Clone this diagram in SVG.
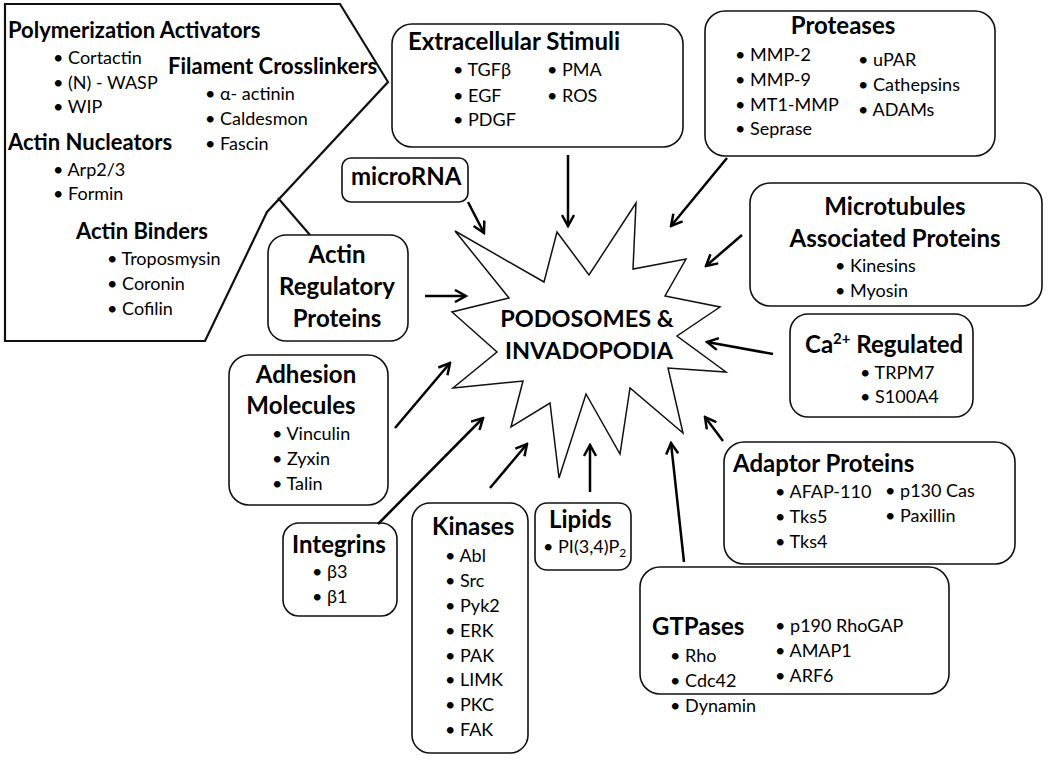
<svg xmlns="http://www.w3.org/2000/svg" width="1050" height="761" viewBox="0 0 1050 761">
<style>
.box{fill:#fff;stroke:#111;stroke-width:1.6}
.shape{fill:#fff;stroke:#111;stroke-width:2.2;stroke-linejoin:miter}
.star{fill:#fff;stroke:#111;stroke-width:1.5;stroke-linejoin:miter}
text{font-family:Lato,"Open Sans","Liberation Sans",sans-serif;fill:#000}
.t{font-weight:bold;font-size:24px}
.tc{font-weight:bold;font-size:24px;text-anchor:middle}
.pc{font-weight:bold;font-size:23.5px;text-anchor:middle}
.h{font-weight:bold;font-size:22px}
.i{font-size:18px}
.c{stroke:#000;stroke-width:2.5;fill:none;marker-end:url(#ah)}
.ln{stroke:#111;stroke-width:2.2;fill:none}
</style>
<defs>
<marker id="ah" viewBox="0 0 14 14" refX="12" refY="7" markerWidth="14" markerHeight="14" markerUnits="userSpaceOnUse" orient="auto">
<path d="M1,1 L12,7 L1,13" fill="none" stroke="#000" stroke-width="2.5"/>
</marker>
</defs>
<rect width="1050" height="761" fill="#fff"/>

<g id="actin-components">
<polygon class="shape" points="5,4 340,4 388,82 267,212 205,341 5,341"/>
<text class="h" x="8" y="38">Polymerization Activators</text>
<text class="i" x="53" y="64">• Cortactin</text>
<text class="i" x="53" y="89">• (N) - WASP</text>
<text class="i" x="53" y="113">• WIP</text>
<text class="h" x="8" y="150">Actin Nucleators</text>
<text class="i" x="53" y="176">• Arp2/3</text>
<text class="i" x="53" y="200">• Formin</text>
<text class="h" x="168" y="74">Filament Crosslinkers</text>
<text class="i" x="205" y="100">• α- actinin</text>
<text class="i" x="205" y="125">• Caldesmon</text>
<text class="i" x="205" y="150">• Fascin</text>
<text class="h" x="76" y="239">Actin Binders</text>
<text class="i" x="107" y="265">• Troposmysin</text>
<text class="i" x="107" y="290">• Coronin</text>
<text class="i" x="107" y="315">• Cofilin</text>
<line class="ln" x1="278" y1="198" x2="310" y2="235"/>
</g>

<g id="extracellular">
<rect class="box" x="392" y="24" width="291" height="123" rx="20"/>
<text class="t" x="408" y="50">Extracellular Stimuli</text>
<text class="i" x="453" y="76">• TGFβ</text>
<text class="i" x="453" y="102">• EGF</text>
<text class="i" x="453" y="126">• PDGF</text>
<text class="i" x="547" y="76">• PMA</text>
<text class="i" x="547" y="102">• ROS</text>
</g>

<g id="proteases">
<rect class="box" x="705" y="11" width="290" height="145" rx="20"/>
<text class="tc" x="843" y="34">Proteases</text>
<text class="i" x="735" y="61">• MMP-2</text>
<text class="i" x="735" y="86">• MMP-9</text>
<text class="i" x="735" y="111">• MT1-MMP</text>
<text class="i" x="735" y="135">• Seprase</text>
<text class="i" x="858" y="66">• uPAR</text>
<text class="i" x="858" y="91">• Cathepsins</text>
<text class="i" x="858" y="116">• ADAMs</text>
</g>

<g id="microrna">
<rect class="box" x="342" y="158" width="126" height="44" rx="9"/>
<text class="t" x="351" y="185">microRNA</text>
</g>

<g id="actin-regulatory">
<rect class="box" x="268" y="235" width="140" height="106" rx="18"/>
<text class="tc" x="337" y="263">Actin</text>
<text class="tc" x="337" y="295">Regulatory</text>
<text class="tc" x="337" y="327">Proteins</text>
</g>

<g id="microtubules">
<rect class="box" x="750" y="183" width="292" height="123" rx="20"/>
<text class="tc" x="895" y="215">Microtubules</text>
<text class="tc" x="895" y="247">Associated Proteins</text>
<text class="i" x="835" y="272">• Kinesins</text>
<text class="i" x="835" y="297">• Myosin</text>
</g>

<g id="calcium">
<rect class="box" x="790" y="314" width="183" height="103" rx="18"/>
<text class="t" x="805" y="353">Ca<tspan font-size="15" dy="-9">2+</tspan><tspan dy="9"> Regulated</tspan></text>
<text class="i" x="860" y="379">• TRPM7</text>
<text class="i" x="860" y="403">• S100A4</text>
</g>

<g id="adaptor">
<rect class="box" x="724" y="442" width="291" height="122" rx="20"/>
<text class="t" x="733" y="472">Adaptor Proteins</text>
<text class="i" x="775" y="498">• AFAP-110</text>
<text class="i" x="775" y="523">• Tks5</text>
<text class="i" x="775" y="548">• Tks4</text>
<text class="i" x="885" y="497">• p130 Cas</text>
<text class="i" x="885" y="522">• Paxillin</text>
</g>

<g id="gtpases">
<rect class="box" x="640" y="567" width="309" height="127" rx="20"/>
<text class="t" x="652" y="635">GTPases</text>
<text class="i" x="670" y="662">• Rho</text>
<text class="i" x="670" y="687">• Cdc42</text>
<text class="i" x="670" y="712">• Dynamin</text>
<text class="i" x="775" y="632">• p190 RhoGAP</text>
<text class="i" x="775" y="657">• AMAP1</text>
<text class="i" x="775" y="682">• ARF6</text>
</g>

<g id="adhesion">
<rect class="box" x="229" y="355" width="159" height="150" rx="20"/>
<text class="tc" x="306" y="383">Adhesion</text>
<text class="tc" x="301" y="414">Molecules</text>
<text class="i" x="272" y="440">• Vinculin</text>
<text class="i" x="272" y="465">• Zyxin</text>
<text class="i" x="272" y="490">• Talin</text>
</g>

<g id="integrins">
<rect class="box" x="283" y="523" width="114" height="93" rx="16"/>
<text class="t" x="292" y="553">Integrins</text>
<text class="i" x="312" y="578">• β3</text>
<text class="i" x="312" y="603">• β1</text>
</g>

<g id="kinases">
<rect class="box" x="412" y="503" width="116" height="250" rx="18"/>
<text class="t" x="432" y="535">Kinases</text>
<text class="i" x="445" y="562">• Abl</text>
<text class="i" x="445" y="587">• Src</text>
<text class="i" x="445" y="612">• Pyk2</text>
<text class="i" x="445" y="637">• ERK</text>
<text class="i" x="445" y="662">• PAK</text>
<text class="i" x="445" y="686">• LIMK</text>
<text class="i" x="445" y="711">• PKC</text>
<text class="i" x="445" y="736">• FAK</text>
</g>

<g id="lipids">
<rect class="box" x="535" y="503" width="96" height="67" rx="12"/>
<text class="t" x="549" y="528">Lipids</text>
<text class="i" x="543" y="553">• PI(3,4)P<tspan font-size="12" dy="4">2</tspan></text>
</g>

<g id="podosomes">
<polygon class="star" points="455,231 544,282 557,232 589,275 636,203 633,269 686,259 665,296 720,307 677,336 726,372 668,368 683,433 630,388 620,454 586,394 559,478 550,403 511,427 523,381 453,388 497,352 452,312 509,298"/>
<text class="pc" x="587" y="327">PODOSOMES &amp;</text>
<text class="pc" x="589" y="359">INVADOPODIA</text>
</g>

<g id="connectors">
<line class="c" x1="468" y1="202" x2="484" y2="233"/>
<line class="c" x1="568" y1="155" x2="568" y2="226"/>
<line class="c" x1="727" y1="158" x2="671" y2="226"/>
<line class="c" x1="742" y1="235" x2="706" y2="266"/>
<line class="c" x1="425" y1="296" x2="466" y2="296"/>
<line class="c" x1="773" y1="354" x2="707" y2="342"/>
<line class="c" x1="395" y1="428" x2="450" y2="363"/>
<line class="c" x1="378" y1="524" x2="483" y2="418"/>
<line class="c" x1="490" y1="488" x2="527" y2="444"/>
<line class="c" x1="590" y1="492" x2="590" y2="445"/>
<line class="c" x1="684" y1="562" x2="671" y2="443"/>
<line class="c" x1="723" y1="441" x2="705" y2="417"/>
</g>
</svg>
